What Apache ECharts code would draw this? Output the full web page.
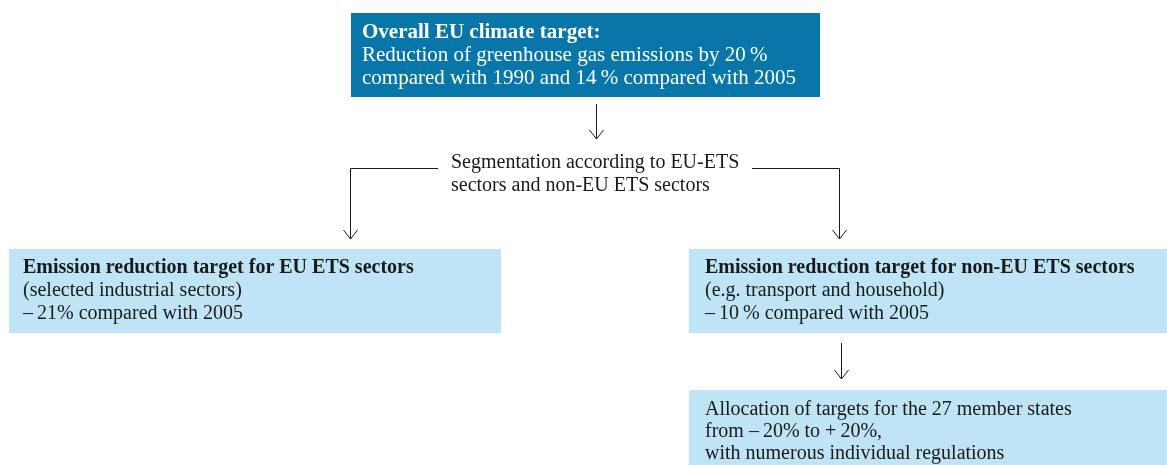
<!DOCTYPE html>
<html>
<head>
<meta charset="utf-8">
<script src="https://cdn.jsdelivr.net/npm/echarts@6/dist/echarts.min.js"></script>
<style>
  html, body { margin: 0; padding: 0; background: #fff; }
  #main { width: 1167px; height: 465px; }
</style>
</head>
<body>
<div id="main"></div>
<script>
// texts of the diagram
var topTitle = 'Overall EU climate target:';
var topLines = [
  'Reduction of greenhouse gas emissions by 20\u2009%',
  'compared with 1990 and 14\u2009% compared with 2005'
];
var splitLines = [
  'Segmentation according to EU-ETS',
  'sectors and non-EU ETS sectors'
];
var leftTitle = 'Emission reduction target for EU ETS sectors';
var leftLines = [
  '(selected industrial sectors)',
  '\u2013\u200921% compared with 2005'
];
var rightTitle = 'Emission reduction target for non-EU ETS sectors';
var rightLines = [
  '(e.g. transport and household)',
  '\u2013\u200910\u2009% compared with 2005'
];
var allocLines = [
  'Allocation of targets for the 27 member states',
  'from \u2013\u200920% to +\u200920%,',
  'with numerous individual regulations'
];

var FONT = '"Liberation Serif", "Times New Roman", serif';
var DARK = '#0876a8';
var LIGHT = '#bfe4f6';
var INK = '#1a1a1a';

function box(x, y, w, h, fill) {
  return { type: 'rect', shape: { x: x, y: y, width: w, height: h }, style: { fill: fill } };
}
function textLines(x, y0, step, lines, color, boldFirst, size) {
  return lines.map(function (t, i) {
    return {
      type: 'text', x: x, y: y0 + i * step,
      style: {
        text: t, fill: color, font: (boldFirst && i === 0 ? 'bold ' : '') + (size || 20) + 'px ' + FONT,
        textAlign: 'left', textVerticalAlign: 'middle'
      }
    };
  });
}
function line(points) {
  return { type: 'polyline', shape: { points: points }, style: { stroke: INK, lineWidth: 1, fill: null } };
}
function head(x, y) {
  return line([[x - 7, y - 9], [x, y], [x + 7, y - 9]]);
}

var g = [];
// top box
g.push(box(351, 13, 469, 84, DARK));
g = g.concat(textLines(362, 33, 22.5, [topTitle].concat(topLines), '#fff', true, 21));
// arrow down to segmentation
g.push(line([[596.5, 104], [596.5, 139]]), head(596.5, 139));
g = g.concat(textLines(451, 163, 23, splitLines, INK, false));
// branches
g.push(line([[438, 168.5], [350.5, 168.5], [350.5, 239]]), head(350.5, 239));
g.push(line([[752, 168.5], [839.5, 168.5], [839.5, 239]]), head(839.5, 239));

// left box
g.push(box(9, 249, 492, 84, LIGHT));
g = g.concat(textLines(23, 268, 23, [leftTitle].concat(leftLines), INK, true));
// right box
g.push(box(689, 249, 478, 84, LIGHT));
g = g.concat(textLines(705, 268, 23, [rightTitle].concat(rightLines), INK, true));
g.push(line([[841.5, 343], [841.5, 379]]), head(841.5, 379));
// allocation box
g.push(box(689, 390, 478, 75, LIGHT));
g = g.concat(textLines(705, 410, 22, allocLines, INK, false));

var chart = echarts.init(document.getElementById('main'), null, { renderer: 'canvas' });
chart.setOption({
  backgroundColor: '#fff',
  animation: false,
  graphic: { elements: g }
});
</script>
</body>
</html>
